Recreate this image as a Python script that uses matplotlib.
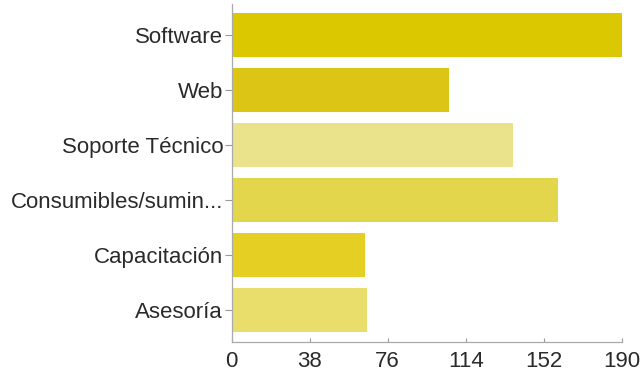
import matplotlib.pyplot as plt

# respuestas por tipo de servicio
categorias = ["Software", "Web", "Soporte Técnico", "Consumibles/sumin...",
              "Capacitación", "Asesoría"]
respuestas = [190, 106, 137, 159, 65, 66]
colores = ["#dcc800", "#ddc516", "#ebe38b", "#e4d64c", "#e4cf22", "#e9dd6c"]
marcas_x = [0, 38, 76, 114, 152, 190]

plt.rcParams["font.family"] = ["Liberation Sans", "DejaVu Sans"]

fig = plt.figure(figsize=(6.41, 3.73), dpi=100)
ax = fig.add_axes([0.3612, 0.083, 0.6092, 0.906])

pos = list(range(len(categorias)))
ax.barh(pos, respuestas, height=0.8, color=colores)

ax.set_ylim(5.58, -0.56)
ax.set_xlim(0, 190)
ax.set_yticks(pos)
ax.set_yticklabels(categorias, fontsize=16, color="#2a2a2a")
ax.set_xticks(marcas_x)
ax.set_xticklabels([str(v) for v in marcas_x], fontsize=16, color="#2a2a2a")

ax.tick_params(axis="y", length=5, width=0.8, color="#999999", pad=1)
ax.tick_params(axis="x", direction="in", length=3, width=0.8,
               color="#999999", pad=6.5)

for lado in ["top", "right"]:
    ax.spines[lado].set_visible(False)
for lado in ["left", "bottom"]:
    ax.spines[lado].set_color("#aaaaaa")
    ax.spines[lado].set_linewidth(0.9)

fig.savefig("out.png", dpi=100)
